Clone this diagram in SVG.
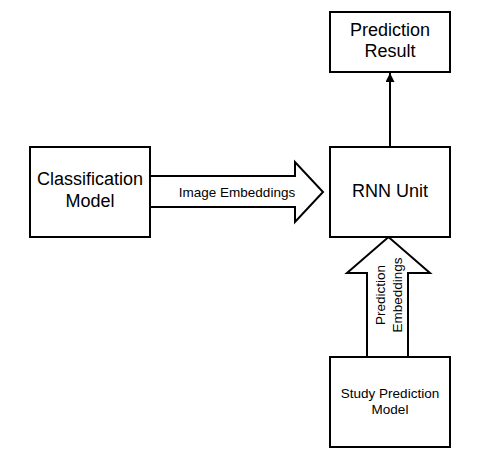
<svg xmlns="http://www.w3.org/2000/svg" width="483" height="458" viewBox="0 0 483 458">
<style>
.box{fill:#fff;stroke:#000;stroke-width:2}
.t{font-family:"Liberation Sans",Arial,sans-serif;fill:#000;text-anchor:middle}
.big{font-size:18px}
.sm{font-size:13.5px}
.conn{fill:#fff;stroke:#000;stroke-width:2;stroke-linejoin:miter}
</style>
<defs>
<marker id="ah" viewBox="0 0 10 10" refX="10" refY="5" markerWidth="13" markerHeight="9" markerUnits="userSpaceOnUse" orient="auto">
<path d="M0,0 L10,5 L0,10 z" fill="#000"/>
</marker>
</defs>
<rect width="483" height="458" fill="#fff"/>
<g id="connectors">
<path id="image-embeddings" class="conn" d="M150,176 L295,176 L295,162 L323,192 L295,222 L295,207 L150,207"/>
<text class="t sm" x="237" y="196.5">Image Embeddings</text>
<path id="prediction-embeddings" class="conn" d="M367,357 L367,273 L347,273 L388.5,237 L430,273 L408,273 L408,357"/>
<g transform="translate(385,295) rotate(-90)">
<text class="t sm" x="0" y="0">Prediction</text>
<text class="t sm" x="0" y="17">Embeddings</text>
</g>
<line id="rnn-to-result" x1="390" y1="147" x2="390" y2="73" stroke="#000" stroke-width="2" marker-end="url(#ah)"/>
</g>
<g id="classification-model">
<rect class="box" x="30" y="147" width="120" height="90"/>
<text class="t big" x="90" y="185">Classification</text>
<text class="t big" x="90" y="207">Model</text>
</g>
<g id="rnn-unit">
<rect class="box" x="330" y="147" width="120" height="90"/>
<text class="t big" x="390" y="197">RNN Unit</text>
</g>
<g id="prediction-result">
<rect class="box" x="330" y="12" width="120" height="60"/>
<text class="t big" x="390" y="36">Prediction</text>
<text class="t big" x="390" y="57">Result</text>
</g>
<g id="study-prediction-model">
<rect class="box" x="330" y="357" width="120" height="90"/>
<text class="t sm" x="390" y="398">Study Prediction</text>
<text class="t sm" x="390" y="414">Model</text>
</g>
</svg>
